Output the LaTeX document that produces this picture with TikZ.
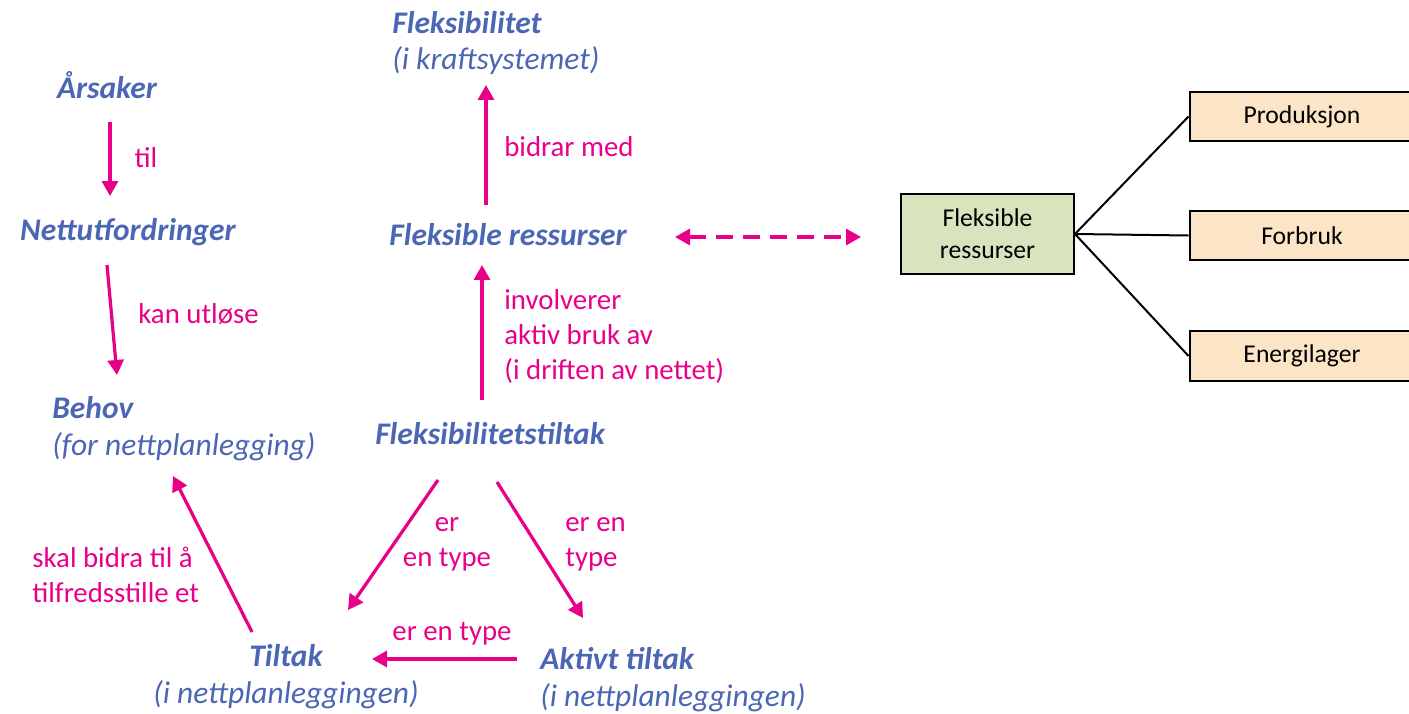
\documentclass[tikz,border=0pt]{standalone}
\usepackage{fontspec}
\setmainfont{Carlito}
\usetikzlibrary{arrows.meta}
\definecolor{conceptblue}{RGB}{75,102,180}
\definecolor{linkpink}{RGB}{233,0,137}
\definecolor{resgreen}{RGB}{215,228,189}
\definecolor{restan}{RGB}{252,229,199}

\begin{document}
\begin{tikzpicture}[x=0.02cm,y=-0.02cm,>={Triangle[length=0.3cm,width=0.32cm]},
    concept/.style={inner sep=0,text=conceptblue,font=\fontsize{17.9}{21}\selectfont\itshape},
    linktext/.style={inner sep=0,text=linkpink,font=\fontsize{16.4}{19.8}\selectfont},
    link/.style={->,draw=linkpink,line width=0.065cm},
    resbox/.style={draw,line width=0.04cm,minimum height=1cm,font=\fontsize{14.6}{18}\selectfont},
    tree/.style={line width=0.04cm}]
    \useasboundingbox (0,0) rectangle (1409,713);

    % begreper
    \node [concept,anchor=base] (aar) at (107,98) {\bfseries Årsaker};
    \node [concept,anchor=base] (nett) at (128,240) {\bfseries Nettutfordringer};
    \node [concept,anchor=base west,align=left] (behov) at (52,455)
          {{\bfseries Behov}\\(for nettplanlegging)};
    \node [concept,anchor=base west,align=left] (flex) at (392,70)
          {{\bfseries Fleksibilitet}\\(i kraftsystemet)};
    \node [concept,anchor=base] (fres) at (508,245) {\bfseries Fleksible ressurser};
    \node [concept,anchor=base] (fltiltak) at (490,444) {\bfseries Fleksibilitetstiltak};
    \node [concept,anchor=base,align=center] (tiltak) at (286,703)
          {{\bfseries Tiltak}\\(i nettplanleggingen)};
    \node [concept,anchor=base west,align=left] (aktivt) at (540,706)
          {{\bfseries Aktivt tiltak}\\(i nettplanleggingen)};

    % relasjoner
    \draw [link] ([shift={(3,24)}]aar.base) -- ([shift={(-18,-44)}]nett.base);
    \draw [link] ([shift={(-21,25)}]nett.base) -- ([shift={(65,-80)}]behov.base west);
    \draw [link] ([shift={(-22,-40)}]fres.base) -- ([shift={(94,15)}]flex.base west);
    \draw [link] ([shift={(-8,-44)}]fltiltak.base) -- ([shift={(-26,20)}]fres.base);
    \draw [link] ([shift={(-52,36)}]fltiltak.base) -- ([shift={(62,-93)}]tiltak.base);
    \draw [link] ([shift={(7,38)}]fltiltak.base) -- ([shift={(43,-88)}]aktivt.base west);
    \draw [link] ([shift={(-23,-47)}]aktivt.base west) -- ([shift={(86,-44)}]tiltak.base);
    \draw [link] ([shift={(-34,-71)}]tiltak.base) -- ([shift={(121,21)}]behov.base west);

    \node [linktext,anchor=base] (til) at (146,167) {til};
    \node [linktext,anchor=base west] (kan) at (138,323) {kan utløse};
    \node [linktext,anchor=base west] (bidrar) at (504,156) {bidrar med};
    \node [linktext,anchor=base west,align=left] (involverer) at (504,379)
          {involverer\\aktiv bruk av\\(i driften av nettet)};
    \node [linktext,anchor=base,align=center] (ertype1) at (447,566) {er\\en type};
    \node [linktext,anchor=base west,align=left] (ertype2) at (565,566) {er en\\type};
    \node [linktext,anchor=base] (ertype3) at (452,640) {er en type};
    \node [linktext,anchor=base west,align=left] (skal) at (32,602)
          {skal bidra til å\\tilfredsstille et};

    % ressurser
    \node [resbox,fill=resgreen,align=center,minimum width=3.46cm,minimum height=1.6cm]
          (fbox) at (987.5,234) {Fleksible\\ressurser};
    \node [resbox,fill=restan,minimum width=4.5cm] (prod) at (1302,116.5) {Produksjon};
    \node [resbox,fill=restan,minimum width=4.5cm] (forbruk) at (1302,235.5) {Forbruk};
    \node [resbox,fill=restan,minimum width=4.5cm] (lager) at (1302,356) {Energilager};

    \draw [link,<->,dash pattern=on 0.34cm off 0.2cm] ([shift={(167,-8)}]fres.base)
          -- ([shift={(-39,3)}]fbox.west);
    \draw [tree] (fbox.east) -- (prod.west);
    \draw [tree] (fbox.east) -- (forbruk.west);
    \draw [tree] (fbox.east) -- (lager.west);
\end{tikzpicture}
\end{document}
